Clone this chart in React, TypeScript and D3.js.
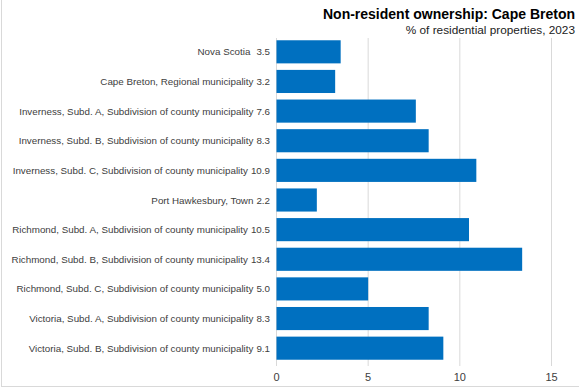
import React from "react";
import * as d3 from "d3";

const categories = [
  "Nova Scotia",
  "Cape Breton, Regional municipality",
  "Inverness, Subd. A, Subdivision of county municipality",
  "Inverness, Subd. B, Subdivision of county municipality",
  "Inverness, Subd. C, Subdivision of county municipality",
  "Port Hawkesbury, Town",
  "Richmond, Subd. A, Subdivision of county municipality",
  "Richmond, Subd. B, Subdivision of county municipality",
  "Richmond, Subd. C, Subdivision of county municipality",
  "Victoria, Subd. A, Subdivision of county municipality",
  "Victoria, Subd. B, Subdivision of county municipality",
];
const values = [3.5, 3.2, 7.6, 8.3, 10.9, 2.2, 10.5, 13.4, 5.0, 8.3, 9.1];
const ticks = [0, 5, 10, 15];

const W = 579;
const H = 388;
const FONT = "'Liberation Sans', Arial, sans-serif";

export default function App() {
  const x = d3.scaleLinear().domain([0, 15]).range([276.5, 551.5]);
  const y = d3
    .scaleBand<string>()
    .domain(categories)
    .range([37, 363])
    .paddingInner(0.22)
    .paddingOuter(0.11);
  return (
    <svg
      width={W}
      height={H}
      style={{ position: "absolute", left: 0, top: 0, background: "#fff" }}
    >
      <line x1={1.5} x2={1.5} y1={0} y2={386} stroke="#d9d9d9" />
      <line x1={1} x2={W} y1={386.5} y2={386.5} stroke="#d9d9d9" />
      {ticks.map((t) => (
        <g key={t}>
          <line
            x1={x(t)}
            x2={x(t)}
            y1={38}
            y2={366}
            stroke="#d9d9d9"
            strokeWidth={1}
          />
          <text
            x={x(t)}
            y={381}
            textAnchor="middle"
            fontFamily={FONT}
            fontSize={11}
            fill="#404040"
          >
            {t}
          </text>
        </g>
      ))}
      {categories.map((c, i) => (
        <g key={c}>
          <rect
            x={x(0)}
            y={y(c)}
            width={x(values[i]) - x(0)}
            height={y.bandwidth()}
            fill="#0070c0"
          />
          <text
            x={270}
            y={(y(c) as number) + y.bandwidth() / 2 + 3.5}
            textAnchor="end"
            fontFamily={FONT}
            fontSize={9.8}
            fill="#404040"
          >
            {c}
            <tspan dx={i === 0 ? 6 : 3}>{values[i].toFixed(1)}</tspan>
          </text>
        </g>
      ))}
      <text
        x={575}
        y={19}
        textAnchor="end"
        fontFamily={FONT}
        fontWeight="bold"
        fontSize={14}
        fill="#000"
      >
        Non-resident ownership: Cape Breton
      </text>
      <text
        x={575}
        y={34}
        textAnchor="end"
        fontFamily={FONT}
        fontSize={11.8}
        fill="#222"
      >
        % of residential properties, 2023
      </text>
    </svg>
  );
}
